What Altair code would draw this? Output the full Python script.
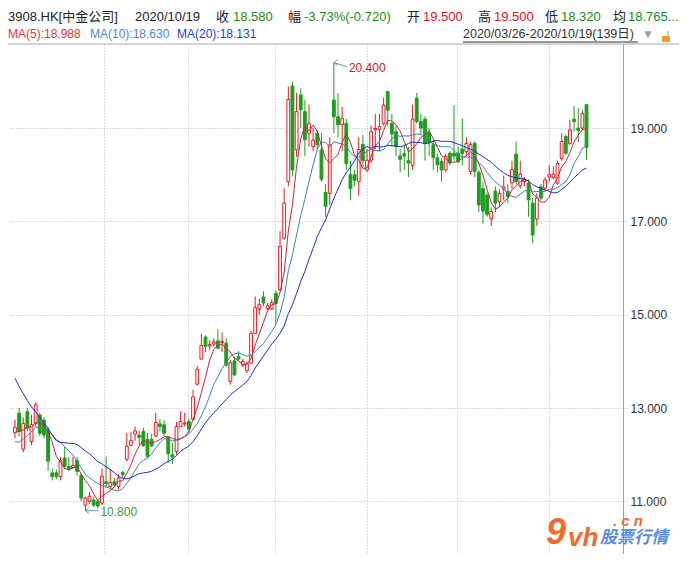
import altair as alt
import pandas as pd

# ---------------- data ----------------
opens = [12.47, 12.89, 12.12, 12.92, 12.28, 12.67, 12.85, 12.74, 12.53, 11.61,
         11.61, 11.53, 11.93, 11.75, 11.72, 11.87, 11.56, 10.92, 11.00, 11.03,
         11.00, 10.96, 11.42, 11.32, 11.42, 11.32, 11.62, 11.90, 12.20, 12.44,
         12.42, 12.50, 12.33, 12.33, 12.40, 12.66, 12.64, 12.37, 12.00, 12.07,
         12.60, 12.66, 12.71, 12.76, 13.51, 14.05, 14.52, 14.33, 14.37, 14.44,
         14.40, 14.39, 13.57, 14.01, 14.10, 13.92, 13.80, 13.96, 14.60, 15.12,
         15.38, 15.13, 15.12, 15.46, 15.53, 16.64, 17.85, 19.90, 18.53, 19.71,
         19.35, 18.89, 18.60, 18.89, 18.53, 17.62, 17.60, 19.60, 19.24, 19.07,
         19.10, 18.00, 18.00, 17.85, 18.65, 18.10, 18.31, 18.96, 18.97, 19.10,
         19.78, 19.10, 18.92, 18.40, 18.45, 18.30, 18.20, 19.64, 19.14, 19.19,
         18.90, 18.64, 18.36, 18.28, 18.10, 18.46, 18.46, 18.46, 18.55, 18.49,
         18.07, 18.67, 18.05, 17.70, 17.56, 17.05, 17.65, 17.42, 17.69, 17.64,
         17.82, 18.44, 17.76, 17.85, 17.82, 17.39, 17.05, 17.74, 17.71, 17.95,
         17.94, 17.82, 18.35, 18.82, 18.67, 19.19, 19.00, 19.00, 19.50]
highs = [12.75, 13.00, 12.80, 13.00, 12.85, 13.12, 12.90, 12.80, 12.60, 11.70,
         11.68, 11.95, 12.18, 11.95, 11.95, 11.95, 11.60, 11.10, 11.20, 11.10,
         11.05, 11.70, 11.96, 11.70, 11.50, 11.58, 11.65, 12.46, 12.48, 12.60,
         12.52, 12.58, 12.47, 12.45, 12.90, 12.76, 12.74, 12.40, 12.25, 12.70,
         12.93, 12.90, 12.78, 13.39, 13.90, 14.59, 14.56, 14.45, 14.49, 14.69,
         14.62, 14.50, 14.03, 14.10, 14.22, 14.05, 14.00, 14.65, 15.39, 15.35,
         15.50, 15.25, 15.33, 15.52, 16.79, 17.71, 19.89, 19.99, 19.75, 19.85,
         19.60, 19.50, 19.00, 18.95, 18.90, 17.80, 18.80, 20.40, 19.75, 19.45,
         19.20, 18.30, 18.10, 18.80, 18.85, 18.55, 19.05, 19.30, 19.30, 19.65,
         19.80, 19.30, 19.05, 18.55, 18.65, 18.60, 19.50, 19.75, 19.30, 19.25,
         19.00, 18.75, 18.45, 18.35, 18.45, 18.50, 19.49, 18.60, 19.20, 18.80,
         18.70, 18.72, 18.10, 17.85, 17.62, 17.30, 17.75, 17.68, 17.98, 17.80,
         18.30, 18.71, 18.30, 17.95, 17.90, 17.50, 17.60, 17.80, 17.95, 18.20,
         18.18, 18.30, 18.88, 18.86, 19.17, 19.47, 19.43, 19.38, 19.50]
lows = [12.35, 12.40, 12.05, 12.50, 12.20, 12.60, 12.40, 12.35, 11.65, 11.45,
        11.47, 11.45, 11.70, 11.65, 11.70, 11.55, 11.00, 10.80, 10.95, 10.88,
        10.85, 10.92, 11.28, 11.25, 11.30, 11.25, 11.50, 11.85, 12.18, 12.30,
        12.20, 12.17, 11.93, 12.16, 12.38, 12.50, 12.40, 11.82, 11.80, 12.00,
        12.60, 12.60, 12.47, 12.75, 13.48, 14.04, 14.20, 14.25, 14.33, 14.26,
        14.20, 13.88, 13.50, 13.68, 14.00, 13.88, 13.75, 13.94, 14.60, 15.00,
        15.18, 15.10, 15.10, 14.82, 15.50, 16.60, 17.75, 17.96, 18.38, 19.00,
        18.40, 18.60, 18.50, 18.55, 17.85, 17.10, 17.35, 18.89, 18.80, 18.50,
        18.10, 17.45, 17.75, 17.55, 18.15, 18.05, 18.25, 18.55, 18.50, 19.05,
        19.05, 18.60, 18.40, 18.05, 18.10, 17.95, 18.10, 19.10, 18.85, 18.30,
        18.40, 18.10, 18.05, 17.85, 18.05, 18.20, 18.30, 18.25, 18.20, 18.40,
        18.00, 17.95, 17.20, 16.95, 17.10, 16.90, 17.20, 17.30, 17.45, 17.40,
        17.70, 17.80, 17.70, 17.75, 17.10, 16.53, 16.90, 17.45, 17.65, 17.85,
        17.90, 17.78, 18.30, 18.42, 18.64, 18.93, 18.70, 18.96, 18.32]
closes = [12.59, 12.50, 12.67, 12.57, 12.64, 13.07, 12.46, 12.42, 11.86, 11.53,
          11.53, 11.87, 11.75, 11.69, 11.77, 11.64, 11.07, 11.07, 11.11, 10.92,
          10.90, 11.54, 11.38, 11.40, 11.35, 11.50, 11.57, 12.18, 12.30, 12.51,
          12.37, 12.19, 11.96, 12.19, 12.69, 12.60, 12.46, 12.02, 11.95, 12.60,
          12.71, 12.68, 12.55, 13.24, 13.83, 14.34, 14.32, 14.36, 14.42, 14.28,
          14.43, 13.92, 13.97, 13.71, 14.05, 14.00, 13.95, 14.60, 15.15, 15.22,
          15.25, 15.19, 15.26, 15.24, 16.46, 17.39, 19.61, 18.10, 19.35, 19.39,
          18.75, 19.09, 18.74, 18.64, 17.90, 17.32, 18.64, 19.24, 19.07, 19.20,
          18.24, 17.70, 17.88, 18.54, 18.30, 18.31, 18.92, 18.99, 19.03, 19.49,
          19.38, 18.87, 18.60, 18.33, 18.40, 18.25, 19.19, 19.14, 19.00, 18.67,
          18.68, 18.37, 18.21, 18.10, 18.39, 18.25, 18.40, 18.28, 18.45, 18.67,
          18.64, 18.07, 17.35, 17.22, 17.14, 17.21, 17.39, 17.60, 17.74, 17.53,
          18.11, 17.85, 18.01, 17.90, 17.46, 16.71, 17.50, 17.50, 17.89, 18.00,
          18.01, 18.24, 18.71, 18.46, 18.96, 19.14, 18.95, 19.31, 18.58]
# closes of the 19 sessions before 2020/03/26 (estimated from where the MA lines start)
pre_closes = [16.0, 15.8, 15.6, 15.3, 15.1, 14.9, 14.7, 14.5, 14.2, 13.9,
              12.6, 12.0, 11.8, 11.9, 12.1, 12.4, 12.5, 12.3, 12.6]

y_ticks = [11, 13, 15, 17, 19]
month_grid = [21.4, 41.8, 62.9, 85.0, 106.7, 129.0]
ma_names = ["ma5", "ma10", "ma20"]

header_line1 = [("3908.HK[中金公司]", "#222222"), ("2020/10/19", "#222222"), ("收", "#222222"),
                ("18.580", "#1a8a1a"), ("幅", "#222222"), ("-3.73%(-0.720)", "#1a8a1a"),
                ("开", "#222222"), ("19.500", "#d4141c"), ("高", "#222222"), ("19.500", "#d4141c"),
                ("低", "#222222"), ("18.320", "#1a8a1a"), ("均", "#222222"), ("18.765...", "#1a8a1a")]
header_line1_x = [0, 127, 208, 225, 280, 296, 399, 415, 470, 486, 537, 553, 605, 620]
header_line2 = [("MA(5):18.988", "#e5323c"), ("MA(10):18.630", "#4f86c6"), ("MA(20):18.131", "#1f3fd0")]
header_line2_x = [0, 82, 169]
range_text = "2020/03/26-2020/10/19(139日)"

# ---------------- styling ----------------
RED = "#e41b23"
GREEN = "#1f9d1f"
ARROW = "#5f97ad"
GRID = "#b8b8b8"
FONT = "Liberation Sans, Noto Sans CJK SC, sans-serif"
W, H = 615, 510

n = len(closes)
candles = pd.DataFrame({"idx": list(range(n)), "open": opens, "high": highs,
                        "low": lows, "close": closes})
hist = pd.DataFrame({"idx": list(range(-len(pre_closes), 0)) + list(range(n)),
                     "close": pre_closes + closes})

xs = alt.Scale(domain=[-0.475, 145.6], nice=False, zero=False)
ys = alt.Scale(domain=[9.872, 20.8], nice=False, zero=False)
XA = alt.Axis(values=month_grid, grid=True, gridDash=[1, 2], gridColor=GRID,
              labels=False, ticks=False, domain=False, title=None)
YA = alt.Axis(orient="right", values=y_ticks, format=".3f", grid=True,
              gridDash=[1, 2], gridColor=GRID, tickSize=5, tickDash=[1, 2],
              tickColor=GRID, domain=True, domainColor="#a0a0a0",
              labelColor="#333333", labelFontSize=12, labelFont=FONT,
              labelPadding=2, title=None)
up = "datum.close >= datum.open"


def X():
    return alt.X("idx:Q", scale=xs, axis=XA)


def Y(field):
    return alt.Y(field, scale=ys, axis=YA)


wicks = alt.Chart(candles).mark_rule(strokeWidth=1).encode(
    x=X(), y=Y("low:Q"), y2="high:Q",
    color=alt.condition(up, alt.value(RED), alt.value(GREEN)),
)

bodies = alt.Chart(candles).mark_bar(size=2.8, strokeWidth=1).encode(
    x=X(), y=Y("open:Q"), y2="close:Q",
    fill=alt.condition(up, alt.value("#ffffff"), alt.value(GREEN)),
    stroke=alt.condition(up, alt.value(RED), alt.value(GREEN)),
)

ma = (alt.Chart(hist)
      .transform_window(ma5="mean(close)", frame=[-4, 0], sort=[alt.SortField("idx")])
      .transform_window(ma10="mean(close)", frame=[-9, 0], sort=[alt.SortField("idx")])
      .transform_window(ma20="mean(close)", frame=[-19, 0], sort=[alt.SortField("idx")])
      .transform_filter("datum.idx >= 0")
      .transform_fold(ma_names, as_=["ma", "value"])
      .mark_line(strokeWidth=1)
      .encode(x=X(), y=Y("value:Q"),
              color=alt.Color("ma:N", scale=alt.Scale(domain=ma_names,
                                                      range=["#c0283c", "#3f82b0", "#1b30c4"]),
                              legend=None)))

# high / low annotations
hi = (alt.Chart(candles).transform_joinaggregate(hmax="max(high)")
      .transform_filter("datum.high == datum.hmax"))
lo = (alt.Chart(candles).transform_joinaggregate(lmin="min(low)")
      .transform_filter("datum.low == datum.lmin"))
arrow_shape = "M1,-0.8L0,0L1,0.8"

hi_line = hi.mark_rule(color=ARROW, strokeWidth=1, x2Offset=13, y2Offset=4).encode(
    x=X(), x2="idx:Q", y=Y("high:Q"), y2="high:Q")
hi_head = hi.mark_point(shape=arrow_shape, filled=False, size=49, strokeWidth=1,
                        color=ARROW, opacity=1).encode(x=X(), y=Y("high:Q"))
hi_text = hi.mark_text(align="left", baseline="middle", dx=15, dy=5, fontSize=12,
                       font=FONT, color="#d4141c").encode(
    x=X(), y=Y("high:Q"), text=alt.Text("high:Q", format=".3f"))

lo_line = lo.mark_rule(color=ARROW, strokeWidth=1, x2Offset=13).encode(
    x=X(), x2="idx:Q", y=Y("low:Q"), y2="low:Q")
lo_head = lo.mark_point(shape=arrow_shape, filled=False, size=49, strokeWidth=1,
                        color=ARROW, opacity=1).encode(x=X(), y=Y("low:Q"))
lo_text = lo.mark_text(align="left", baseline="middle", dx=15, dy=1, fontSize=12,
                       font=FONT, color="#3d9b35").encode(
    x=X(), y=Y("low:Q"), text=alt.Text("low:Q", format=".3f"))


def label(text, x, y, color, size=14, weight="normal", style="normal",
          baseline="middle"):
    return alt.Chart(alt.Data(values=[{"t": text}])).mark_text(
        align="left", baseline=baseline, fontSize=size, color=color, font=FONT,
        fontWeight=weight, fontStyle=style).encode(
        x=alt.value(x), y=alt.value(y), text="t:N")


one = alt.Data(values=[{"k": 1}])
layers = [wicks, bodies, ma, hi_line, hi_head, hi_text, lo_line, lo_head, lo_text]

for (txt, col), x in zip(header_line1, header_line1_x):
    layers.append(label(txt, x, -27, col, size=13))
for (txt, col), x in zip(header_line2, header_line2_x):
    layers.append(label(txt, x, -10, col, size=12))
layers.append(label(range_text, 455, -10, "#333333", size=12.5))
layers.append(alt.Chart(one).mark_rule(color="#333333", strokeWidth=1).encode(
    x=alt.value(455), x2=alt.value(630), y=alt.value(-2)))
layers.append(label("▼", 634, -10, "#999999", size=12))
# lock icon
layers.append(alt.Chart(one).mark_rect(color="#f0a030").encode(
    x=alt.value(654), x2=alt.value(662), y=alt.value(-8), y2=alt.value(-2)))
layers.append(alt.Chart(one).mark_rule(color="#c0c0c0", strokeWidth=1.5).encode(
    x=alt.value(660), y=alt.value(-13), y2=alt.value(-8)))
# header separator line
layers.append(alt.Chart(one).mark_rule(color="#a8a8a8", strokeWidth=1).encode(
    x=alt.value(0), x2=alt.value(671), y=alt.value(0)))

# watermark
layers.append(label("9", 538, 500, "#f36b2b", size=36, weight="bold", style="italic",
                    baseline="alphabetic"))
layers.append(label("vh", 560, 502, "#f36b2b", size=26, weight="bold", style="italic",
                    baseline="alphabetic"))
layers.append(label(". c n", 605, 482, "#f36b2b", size=15, weight="bold", style="italic",
                    baseline="alphabetic"))
layers.append(label("股票行情", 592, 494, "#5a8de0", size=17, weight="bold", style="italic"))

chart = alt.layer(*layers).properties(
    width=W, height=H,
    autosize=alt.AutoSizeParams(type="none"),
    padding={"left": 0, "top": 36, "right": 56, "bottom": 0},
).configure_view(strokeWidth=0)

chart.save("out.html", embed_options={"renderer": "svg", "actions": False})
